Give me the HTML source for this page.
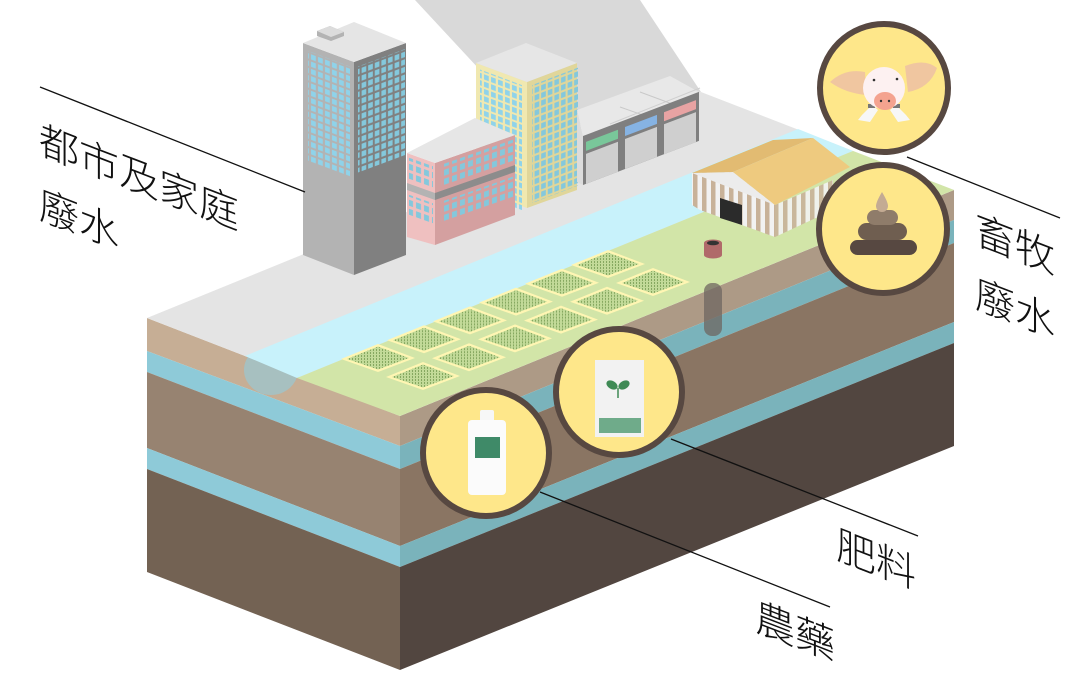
<!DOCTYPE html>
<html><head><meta charset="utf-8"><style>
html,body{margin:0;padding:0;background:#fff;}
svg{display:block}
text{font-family:"Liberation Sans","Noto Sans CJK TC","Noto Sans CJK SC",sans-serif;font-size:40px;font-weight:300;fill:#111}
</style></head><body>
<svg width="1080" height="698" viewBox="0 0 1080 698" xmlns="http://www.w3.org/2000/svg">
<defs>
<pattern id="win" width="7" height="7.3" patternUnits="userSpaceOnUse"><rect x="1" y="1" width="4.8" height="5.2" fill="#8fd3ea"/></pattern>
<pattern id="win2" width="6.6" height="7.6" patternUnits="userSpaceOnUse"><rect x="1" y="1" width="4.6" height="5.4" fill="#84c8dc"/></pattern>
<pattern id="winp" width="8" height="9" patternUnits="userSpaceOnUse"><rect x="1" y="1" width="5" height="6" fill="#84c8dc"/></pattern>
<pattern id="crop" width="3" height="3" patternUnits="userSpaceOnUse"><rect width="3" height="3" fill="#c2da98"/><rect x="1" y="0" width="1" height="2" fill="#86a860"/></pattern>
<pattern id="stripe" width="9" height="20" patternUnits="userSpaceOnUse"><rect width="9" height="20" fill="#f2f2f2"/><rect x="0" width="4.5" height="20" fill="#c8b299"/></pattern>
<g id="plot"><polygon points="-37,1 0,-14 37,0 0,14" fill="#fff6b3"/><polygon points="-31,1 0,-11.5 31,0 0,11.5" fill="url(#crop)"/></g>
</defs>

<polygon points="415,0 640,0 701,92 600,135 480,70" fill="#d9d9d9"/>

<polygon points="147,318 400,416 400,446 147,351" fill="#c6ae95"/>
<polygon points="147,351 400,446 400,469 147,372" fill="#8ecad8"/>
<polygon points="147,372 400,469 400,546 147,448" fill="#978371"/>
<polygon points="147,448 400,546 400,567 147,469" fill="#8ecad8"/>
<polygon points="147,469 400,567 400,670 147,572" fill="#736253"/>
<polygon points="400,416 954,190 954,220 400,446" fill="#ad9a86"/>
<polygon points="400,446 954,220 954,243 400,469" fill="#7ab3bb"/>
<polygon points="400,469 954,243 954,322 400,546" fill="#8a7563"/>
<polygon points="400,546 954,322 954,343 400,567" fill="#7ab3bb"/>
<polygon points="400,567 954,343 954,446 400,670" fill="#524640"/>
<ellipse cx="271" cy="370" rx="27" ry="25" fill="#9cc6cf" opacity="0.75"/>

<polygon points="147,318 701,92 954,190 400,416" fill="#e4e4e4"/>
<polygon points="245,356 798,129 853,151 297,378" fill="#c8f2fb"/>
<polygon points="297,378 853,151 954,190 400,416" fill="#d2e5a8"/>

<use href="#plot" x="608" y="264"/><use href="#plot" x="562" y="282.8"/><use href="#plot" x="516" y="301.6"/>
<use href="#plot" x="470" y="320.4"/><use href="#plot" x="424" y="339.2"/><use href="#plot" x="378" y="358"/>
<use href="#plot" x="653" y="282"/><use href="#plot" x="607" y="300.8"/><use href="#plot" x="561" y="319.6"/>
<use href="#plot" x="515" y="338.4"/><use href="#plot" x="469" y="357.2"/><use href="#plot" x="423" y="376"/>

<polygon points="692,173 733,172 775,205 775,237 700,210 692,205" fill="url(#stripe)"/>
<polygon points="775,205 833,180 833,210 775,237" fill="url(#stripe)" opacity="0.9"/>
<polygon points="692,173 733,172 775,205" fill="#ececec"/>
<polygon points="692,173 773,140 813,138 733,172" fill="#e2bb72"/>
<polygon points="733,172 813,138 850,167 775,205" fill="#eeca7f"/>
<polygon points="720,198 742,205 742,225 720,218" fill="#2b2b2b"/>

<rect x="704" y="283" width="18" height="53" rx="8" fill="#6f6660" opacity="0.75"/>
<rect x="704" y="243" width="18" height="12" fill="#b06a6a"/>
<ellipse cx="713" cy="255" rx="9" ry="3.5" fill="#b06a6a"/>
<ellipse cx="713" cy="243" rx="9" ry="3.5" fill="#b06a6a"/>
<ellipse cx="713" cy="243" rx="6" ry="2.3" fill="#333"/>

<polygon points="476,63 527,82 527,208 476,190" fill="#f0e8b0"/>
<polygon points="527,82 577,63 577,190 527,208" fill="#e0d69a"/>
<polygon points="476,63 526,43 577,63 527,82" fill="#e6e6e6"/>
<g transform="translate(476,63) skewY(20.4)"><rect x="4" y="5" width="42" height="125" fill="url(#win)"/></g>
<g transform="translate(527,82) skewY(-20.8)"><rect x="5" y="5" width="46" height="118" fill="url(#win2)"/></g>

<polygon points="577,110 670,76 699,92 583,136" fill="#e8e8e8"/>
<line x1="610" y1="124" x2="700" y2="88" stroke="#cfcfcf"/>
<line x1="620" y1="107" x2="660" y2="121" stroke="#c9c9c9"/>
<line x1="640" y1="92" x2="675" y2="105" stroke="#c9c9c9"/>
<polygon points="577,110 583,136 583,185 577,182" fill="#dcdcdc"/>
<g transform="translate(583,136) skewY(-20.8)">
<rect x="0" y="0" width="116" height="49" fill="#7f7f7f"/>
<rect x="3" y="7" width="32" height="9" fill="#79c79a"/><rect x="3" y="19" width="32" height="30" fill="#cfcfcf"/>
<rect x="42" y="7" width="32" height="9" fill="#86b3e3"/><rect x="42" y="19" width="32" height="30" fill="#cfcfcf"/>
<rect x="81" y="7" width="32" height="9" fill="#e8a3a3"/><rect x="81" y="19" width="32" height="30" fill="#cfcfcf"/>
</g>

<polygon points="407,153 435,163 435,245 407,237" fill="#efc0c0"/>
<polygon points="435,163 515,135 515,215 435,245" fill="#d4a0a0"/>
<polygon points="407,153 475,118 515,135 435,163" fill="#e6e6e6"/>
<g transform="translate(407,153) skewY(19.6)"><rect x="0" y="30" width="28" height="7" fill="#b3b3b3"/><rect x="2" y="4" width="24" height="22" fill="url(#winp)"/><rect x="2" y="41" width="24" height="22" fill="url(#winp)"/></g>
<g transform="translate(435,163) skewY(-19.3)"><rect x="0" y="30" width="80" height="7" fill="#8c8c8c"/><rect x="6" y="4" width="72" height="22" fill="url(#winp)"/><rect x="6" y="41" width="72" height="22" fill="url(#winp)"/></g>

<polygon points="303,43 354,62 354,275 303,255" fill="#b3b3b3"/>
<polygon points="354,62 406,43 406,255 354,275" fill="#808080"/>
<polygon points="303,43 354,22 406,43 354,62" fill="#e5e5e5"/>
<polygon points="317,31 330,26 344,32 344,36 331,41 317,36" fill="#b3b3b3"/>
<polygon points="317,31 330,26 344,32 331,37" fill="#dcdcdc"/>
<g transform="translate(303,43) skewY(20.4)"><rect x="5" y="6" width="42" height="110" fill="url(#win)"/></g>
<g transform="translate(354,62) skewY(-20.4)"><rect x="4" y="6" width="47" height="106" fill="url(#win2)"/></g>

<g stroke="#574841" stroke-width="6" fill="#fee78a">
<circle cx="884" cy="88" r="64"/>
<circle cx="883" cy="229" r="64"/>
<circle cx="619" cy="392" r="63"/>
<circle cx="486" cy="453" r="63"/>
</g>
<path d="M830,82 Q845,68 865,72 L866,95 Q845,93 830,82Z" fill="#f0c6a0"/>
<path d="M937,68 Q925,58 905,66 L908,92 Q930,88 937,68Z" fill="#f0c6a0"/>
<polygon points="862,115 872,105 878,110 870,122 858,120" fill="#f7f7f7"/>
<polygon points="906,115 896,105 890,110 898,122 910,120" fill="#f7f7f7"/>
<rect x="868" y="104" width="7" height="4" fill="#777"/><rect x="893" y="104" width="7" height="4" fill="#777"/>
<circle cx="884" cy="88" r="21" fill="#fdf1f1"/>
<ellipse cx="885" cy="101" rx="11" ry="9" fill="#f4a38f"/>
<circle cx="881" cy="101" r="1.2" fill="#333"/><circle cx="889" cy="101" r="1.2" fill="#333"/>
<circle cx="874" cy="80" r="1.3" fill="#333"/><circle cx="897" cy="79" r="1.3" fill="#333"/>
<rect x="850" y="240" width="67" height="15" rx="7.5" fill="#574841"/>
<rect x="858" y="223" width="49" height="17" rx="8.5" fill="#6f5e50"/>
<rect x="867" y="210" width="31" height="15" rx="7.5" fill="#8f7c6a"/>
<path d="M882,192 Q876,202 876,206 A6,6 0 0 0 888,206 Q888,202 882,192Z" fill="#c4ab93"/>
<rect x="595" y="360" width="49" height="77" fill="#f2f2f2"/>
<rect x="599" y="418" width="42" height="15" fill="#6fab8a"/>
<path d="M618,398 L618,388" stroke="#3f8a55" stroke-width="1.5"/>
<ellipse cx="612" cy="385" rx="6" ry="4" transform="rotate(30 612 385)" fill="#3f8a55"/>
<ellipse cx="624" cy="385" rx="6" ry="4" transform="rotate(-30 624 385)" fill="#3f8a55"/>
<rect x="480" y="410" width="14" height="14" rx="2" fill="#f7f7f7"/>
<rect x="468" y="420" width="38" height="75" rx="4" fill="#fbfbfb"/>
<rect x="475" y="437" width="25" height="21" fill="#3f8a68"/>

<g stroke="#111" stroke-width="1.3">
<line x1="40" y1="87" x2="305" y2="192"/>
<line x1="907" y1="157" x2="1060" y2="218"/>
<line x1="671" y1="439" x2="918" y2="536"/>
<line x1="540" y1="492" x2="830" y2="607"/>
</g>

<text transform="translate(39,153) skewY(21)">都市及家庭</text>
<text transform="translate(39,218) skewY(21)">廢水</text>
<text transform="translate(975,243) skewY(21)">畜牧</text>
<text transform="translate(975,307) skewY(21)">廢水</text>
<text transform="translate(836,558) skewY(21)">肥料</text>
<text transform="translate(755,630) skewY(21)">農藥</text>
</svg>
</body></html>
